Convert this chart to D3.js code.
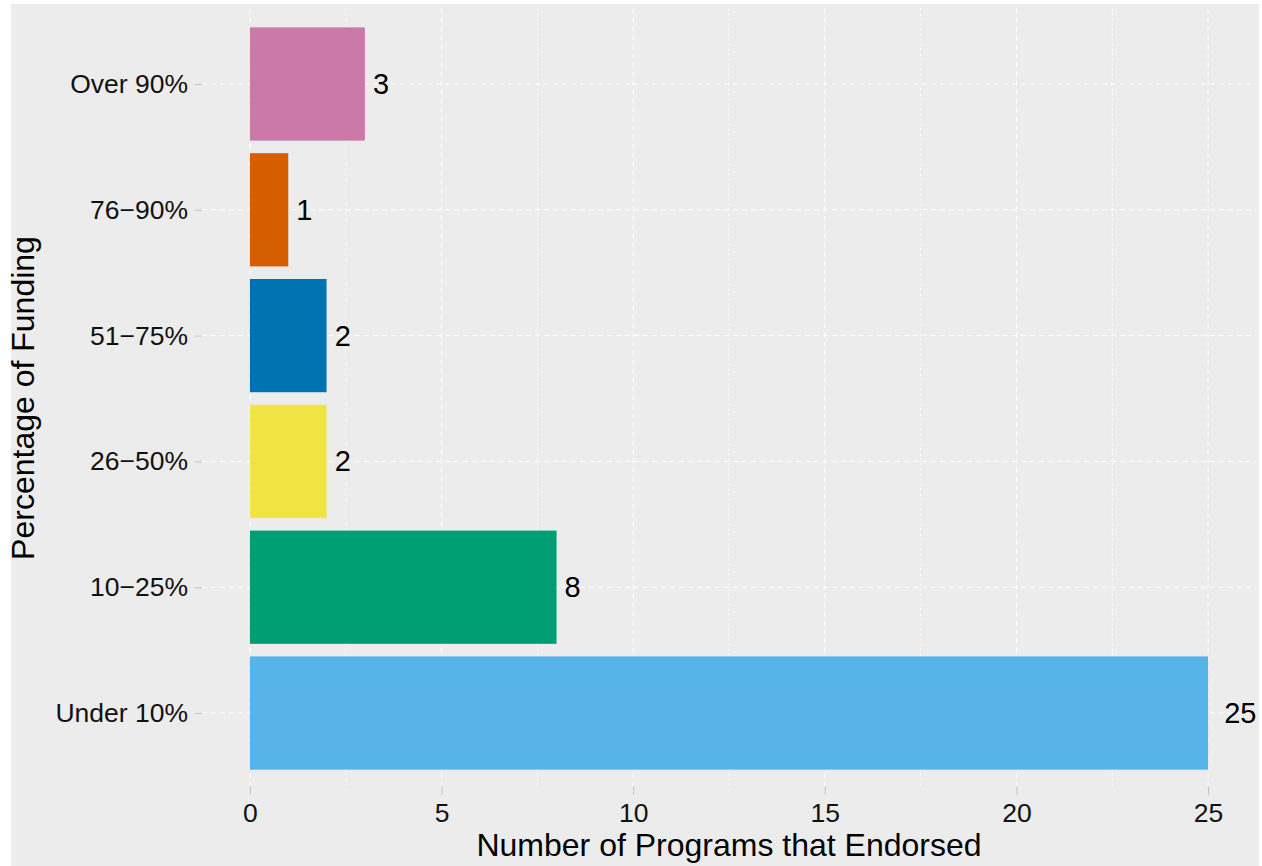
<!DOCTYPE html>
<html><head><meta charset="utf-8">
<script src="https://cdn.jsdelivr.net/npm/d3@7"></script>
<style>body{margin:0;background:#fff}svg{display:block}text{font-family:"Liberation Sans",Arial,sans-serif}</style>
</head><body><svg id="c" width="1262" height="866"></svg>
<script>
const categories = ["Under 10%","10\u221225%","26\u221250%","51\u221275%","76\u221290%","Over 90%"];
const values = [25,8,2,2,1,3];
const colors = ["#56B4E9","#009E73","#F0E442","#0072B2","#D55E00","#CC79A7"];
const xTicks = [0,5,10,15,20,25];
const xMinor = [2.5,7.5,12.5,17.5,22.5];

const svg = d3.select("#c");
svg.append("rect").attr("x",11).attr("y",4).attr("width",1248).attr("height",862).attr("fill","#ececec");

const x = d3.scaleLinear().domain([-1.25,26.25]).range([202,1256]);
const y = d3.scaleBand().domain(categories).range([788.5,8.5]).paddingInner(0.1).paddingOuter(0.15);
const yc = d => y(d)+y.bandwidth()/2;

const grid = svg.append("g");
grid.selectAll(".mn").data(xMinor).join("line")
  .attr("x1",d=>x(d)).attr("x2",d=>x(d)).attr("y1",8.5).attr("y2",786)
  .attr("stroke","#fff").attr("stroke-width",1).attr("stroke-dasharray","2,3");
grid.selectAll(".mj").data(xTicks).join("line")
  .attr("x1",d=>x(d)).attr("x2",d=>x(d)).attr("y1",8.5).attr("y2",786)
  .attr("stroke","#fff").attr("stroke-width",1).attr("stroke-dasharray","5,4");
grid.selectAll(".hz").data(categories).join("line")
  .attr("x1",202).attr("x2",1256).attr("y1",d=>yc(d)).attr("y2",d=>yc(d))
  .attr("stroke","#fff").attr("stroke-width",1).attr("stroke-dasharray","5,4");

svg.selectAll(".bar").data(categories).join("rect")
  .attr("x",x(0)).attr("y",d=>y(d)).attr("height",y.bandwidth())
  .attr("width",(d,i)=>x(values[i])-x(0)).attr("fill",(d,i)=>colors[i]);

svg.selectAll(".lbl").data(categories).join("text")
  .attr("y",d=>yc(d)+10).attr("font-size",29).attr("fill","#000")
  .text((d,i)=>values[i])
  .each(function(d,i){const w=this.getComputedTextLength(); d3.select(this).attr("x",x(values[i])+0.5*w);});

// x axis
const xa = svg.append("g").attr("transform","translate(0,786)")
  .call(d3.axisBottom(x).tickValues(xTicks).tickSize(9).tickPadding(8).tickFormat(d3.format("d")));
xa.select(".domain").remove();
xa.selectAll("line").attr("stroke","#c4c4c4").attr("stroke-width",1);
xa.selectAll("text").attr("font-size",26.5).attr("fill","#111").attr("font-family","Liberation Sans, Arial, sans-serif");

// y axis
const ya = svg.append("g").attr("transform","translate(202,0)")
  .call(d3.axisLeft(d3.scalePoint().domain(categories).range([yc(categories[0]),yc(categories[5])])).tickSize(7).tickPadding(7));
ya.select(".domain").remove();
ya.selectAll("line").attr("stroke","#c4c4c4");
ya.selectAll("text").attr("font-size",26.5).attr("fill","#111").attr("font-family","Liberation Sans, Arial, sans-serif");

svg.append("text").attr("x",729).attr("y",856).attr("text-anchor","middle").attr("font-size",32).attr("fill","#000")
  .text("Number of Programs that Endorsed");
svg.append("text").attr("transform","translate(34,398) rotate(-90)").attr("text-anchor","middle").attr("font-size",32).attr("fill","#000")
  .text("Percentage of Funding");
</script></body></html>
